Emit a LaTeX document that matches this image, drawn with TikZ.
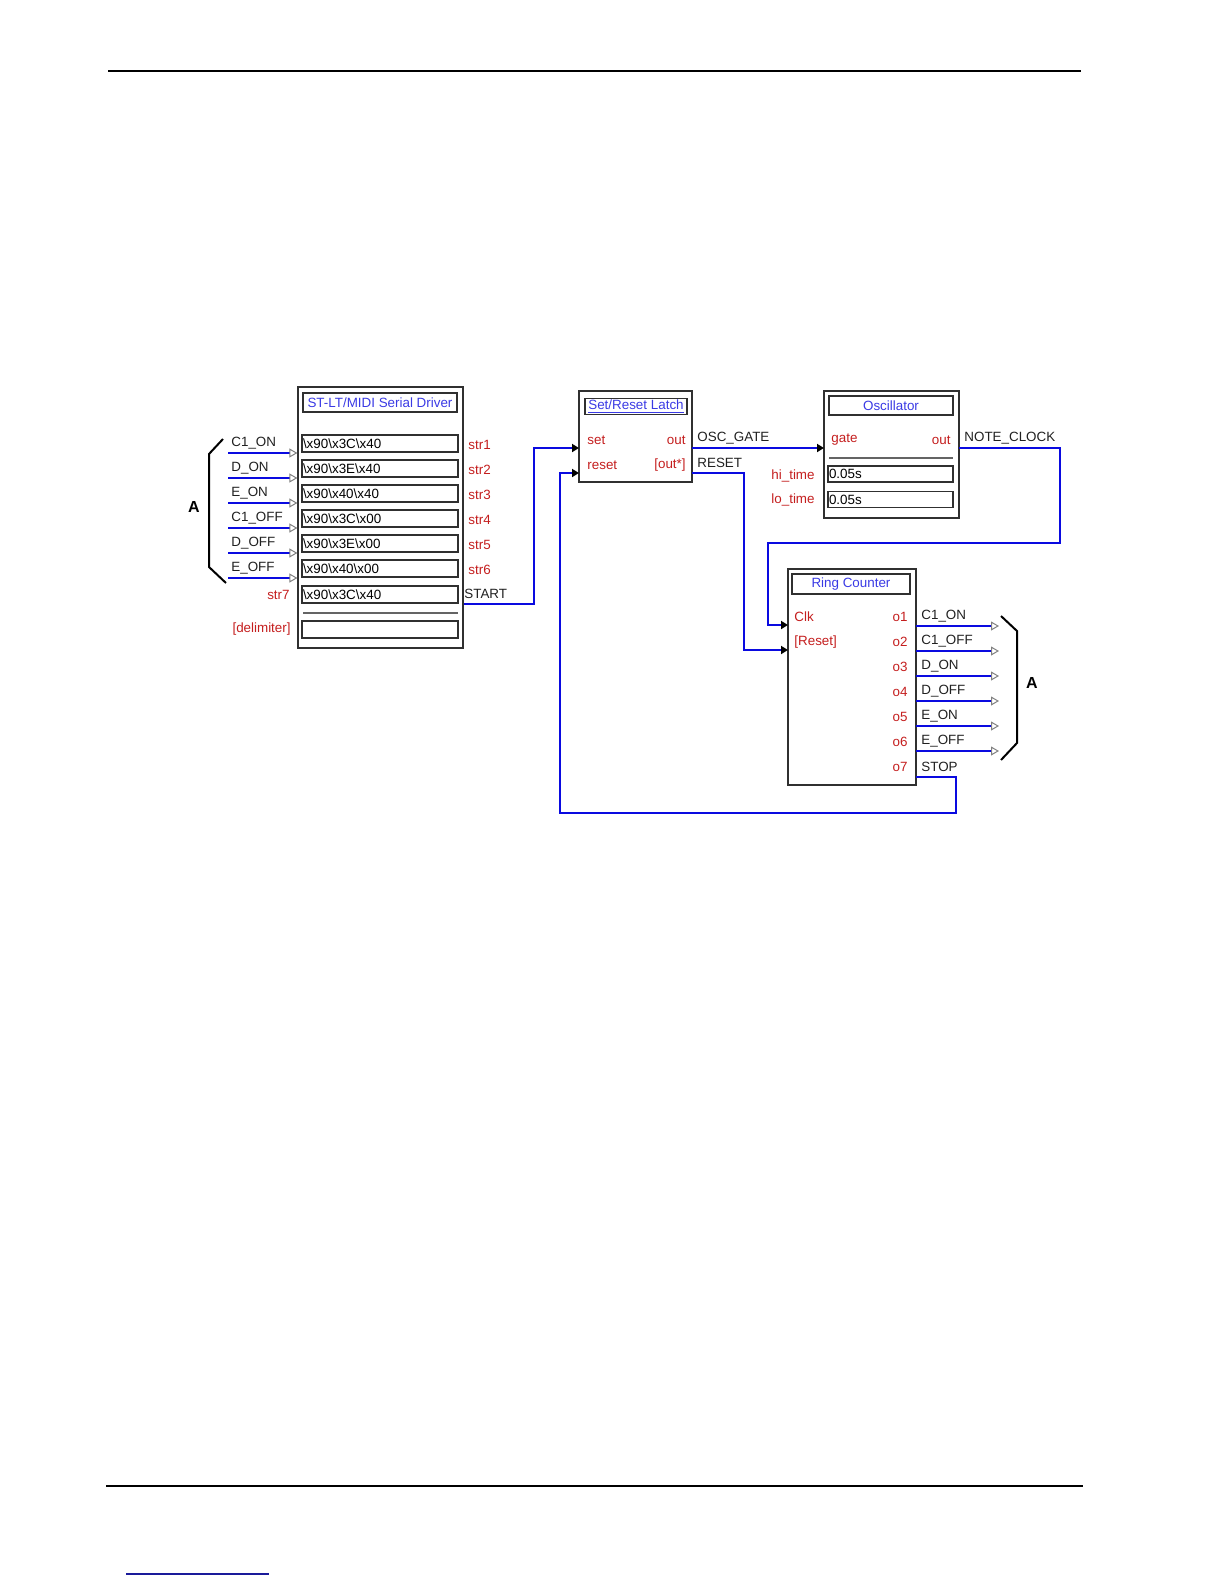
\documentclass[tikz,border=0pt]{standalone}
\usepackage{fontspec}
\setmainfont{Liberation Sans}
\usetikzlibrary{arrows.meta}
\definecolor{cport}{HTML}{C41E1E}
\definecolor{ctitle}{HTML}{3A3AE4}
\definecolor{cwire}{HTML}{0A0AE0}
\definecolor{cbox}{HTML}{303030}
\definecolor{csig}{HTML}{202020}
\definecolor{clink}{HTML}{1A1A9A}

\begin{document}
\begin{tikzpicture}[
  x=0.5bp, y=-0.5bp,
  font=\fontsize{6.7bp}{8bp}\selectfont,
  blk/.style={draw=cbox, line width=0.6bp, inner sep=0pt},
  ttl/.style={draw=cbox, line width=0.6bp, inner sep=0pt, text=ctitle},
  fld/.style={draw=cbox, line width=0.6bp, inner sep=0.5bp, text width=#1, minimum height=8.5bp, align=left},
  prt/.style={text=cport, inner sep=1pt},
  sig/.style={text=csig, inner sep=1pt, anchor=west},
  wire/.style={draw=cwire, line width=1bp},
  drive/.style={wire, -{Triangle[length=3.5bp, width=4bp, color=black]}},
  feed/.style={wire, -{Triangle[open, length=4bp, width=4.5bp, line width=0.5bp, color=black!50]}},
  rule/.style={line width=1.3bp},
  brc/.style={line width=1bp},
  grp/.style={font=\fontsize{8bp}{9bp}\selectfont\bfseries},
]
\newcommand{\hx}[3]{\textbackslash x#1\textbackslash x#2\textbackslash x#3}

\useasboundingbox (0,0) rectangle (1224,1584);

% ------------------------------------------------------------------ page rules
\draw[rule] (108,71) -- (1081,71);
\draw[rule] (106,1486) -- (1083,1486);
\draw[draw=clink, line width=0.8bp] (126,1574) -- (269,1574);

% ------------------------------------------------------------------ serial driver
\node[blk, minimum width=82.5bp, minimum height=130.5bp] (drv) at (380.5,517.5) {};
\node[ttl, minimum width=77bp, minimum height=9.5bp] (drvt) at (380,402.5) {ST-LT/MIDI Serial Driver};
\node[fld=77bp] (s1) at (380,443.5) {\hx{90}{3C}{40}};
\node[fld=77bp] (s2) at (380,468.5) {\hx{90}{3E}{40}};
\node[fld=77bp] (s3) at (380,493.5) {\hx{90}{40}{40}};
\node[fld=77bp] (s4) at (380,518.5) {\hx{90}{3C}{00}};
\node[fld=77bp] (s5) at (380,543.5) {\hx{90}{3E}{00}};
\node[fld=77bp] (s6) at (380,568.5) {\hx{90}{40}{00}};
\node[fld=77bp] (s7) at (380,594.5) {\hx{90}{3C}{40}};
\draw[line width=0.6bp, draw=cbox!75] (303,613) -- (458,613);
\node[fld=77bp] (sdel) at (380,629.5) {};

\node[prt, anchor=west] (p1) at (466,445) {str1};
\node[prt, anchor=west] (p2) at (466,470) {str2};
\node[prt, anchor=west] (p3) at (466,495) {str3};
\node[prt, anchor=west] (p4) at (466,520) {str4};
\node[prt, anchor=west] (p5) at (466,545) {str5};
\node[prt, anchor=west] (p6) at (466,570) {str6};
\node[prt, anchor=east] (p7) at (292,595) {str7};
\node[prt, anchor=east] (pdel) at (293,629) {[delimiter]};
\node[sig] (nstart) at (462,594) {START};

% inputs from the ring counter outputs (group A)
\coordinate (i1) at (228,453);
\coordinate (i2) at (228,478);
\coordinate (i3) at (228,503);
\coordinate (i4) at (228,528);
\coordinate (i5) at (228,553);
\coordinate (i6) at (228,578);
\draw[feed] (i1) -- (i1 -| drv.west);
\draw[feed] (i2) -- (i2 -| drv.west);
\draw[feed] (i3) -- (i3 -| drv.west);
\draw[feed] (i4) -- (i4 -| drv.west);
\draw[feed] (i5) -- (i5 -| drv.west);
\draw[feed] (i6) -- (i6 -| drv.west);
\node[sig] (ni1) at (229,443) {C1\_ON};
\node[sig] (ni2) at (229,468) {D\_ON};
\node[sig] (ni3) at (229,493) {E\_ON};
\node[sig] (ni4) at (229,518) {C1\_OFF};
\node[sig] (ni5) at (229,543) {D\_OFF};
\node[sig] (ni6) at (229,568) {E\_OFF};
\draw[brc] (223,439) -- (209,454) -- (209,567) -- (226,583);
\node[grp] (grpl) at (194,507) {A};

% ------------------------------------------------------------------ set/reset latch
\node[blk, minimum width=56.5bp, minimum height=45.5bp] (lat) at (635.5,436.5) {};
\node[ttl, minimum width=51bp, minimum height=8bp, inner ysep=0.4bp] (latt) at (636,406.5) {\underline{Set/Reset Latch}};
\node[prt, anchor=west] (lset) at (585,440) {set};
\node[prt, anchor=west] (lrst) at (585,465) {reset};
\node[prt, anchor=east] (lout) at (688,440) {out};
\node[prt, anchor=east] (loutn) at (688,465) {[out*]};
\node[sig] (ngate) at (695,438) {OSC\_GATE};
\node[sig] (nreset) at (695,463) {RESET};
\coordinate (lat-set) at (579,448);
\coordinate (lat-rst) at (579,473);
\coordinate (lat-out) at (692,448);
\coordinate (lat-outn) at (692,473);

% ------------------------------------------------------------------ oscillator
\node[blk, minimum width=67.5bp, minimum height=63.5bp] (osc) at (891.5,454.5) {};
\node[ttl, minimum width=62bp, minimum height=9.5bp] (osct) at (891,405.5) {Oscillator};
\node[prt, anchor=west] (ogate) at (829,440) {gate};
\node[prt, anchor=east] (oout) at (953,440) {out};
\draw[line width=0.6bp, draw=cbox!75] (829,458) -- (953,458);
\node[fld=61.5bp, minimum height=8bp] (hi) at (890.5,474) {0.05s};
\node[fld=61.5bp, minimum height=8bp] (lo) at (890.5,499.5) {0.05s};
\node[prt, anchor=east] (ohi) at (817,476) {hi\_time};
\node[prt, anchor=east] (olo) at (817,500) {lo\_time};
\node[sig] (nclock) at (962,438) {NOTE\_CLOCK};
\coordinate (osc-gate) at (824,448);
\coordinate (osc-out) at (959,448);

% ------------------------------------------------------------------ ring counter
\node[blk, minimum width=64bp, minimum height=108bp] (rc) at (852,677) {};
\node[ttl, minimum width=59bp, minimum height=10bp] (rct) at (851,584) {Ring Counter};
\node[prt, anchor=west] (rclk) at (792,617) {Clk};
\node[prt, anchor=west] (rrst) at (792,642) {[Reset]};
\node[prt, anchor=east] (o1) at (910,617) {o1};
\node[prt, anchor=east] (o2) at (910,642) {o2};
\node[prt, anchor=east] (o3) at (910,667) {o3};
\node[prt, anchor=east] (o4) at (910,692) {o4};
\node[prt, anchor=east] (o5) at (910,717) {o5};
\node[prt, anchor=east] (o6) at (910,742) {o6};
\node[prt, anchor=east] (o7) at (910,767) {o7};
\node[sig] (no1) at (919,616) {C1\_ON};
\node[sig] (no2) at (919,641) {C1\_OFF};
\node[sig] (no3) at (919,666) {D\_ON};
\node[sig] (no4) at (919,691) {D\_OFF};
\node[sig] (no5) at (919,716) {E\_ON};
\node[sig] (no6) at (919,741) {E\_OFF};
\node[sig] (nstop) at (919,767) {STOP};
\coordinate (rc-clk) at (788,625);
\coordinate (rc-rst) at (788,650);
\coordinate (rc-stop) at (916,777);

% outputs to the serial driver inputs (group A)
\coordinate (q1) at (916,626);
\coordinate (q2) at (916,651);
\coordinate (q3) at (916,676);
\coordinate (q4) at (916,701);
\coordinate (q5) at (916,726);
\coordinate (q6) at (916,751);
\draw[feed] (q1) -- ++(83,0);
\draw[feed] (q2) -- ++(83,0);
\draw[feed] (q3) -- ++(83,0);
\draw[feed] (q4) -- ++(83,0);
\draw[feed] (q5) -- ++(83,0);
\draw[feed] (q6) -- ++(83,0);
\draw[brc] (1001,616) -- (1017,631) -- (1017,743) -- (1001,760);
\node[grp] (grpr) at (1032,683) {A};

% ------------------------------------------------------------------ wires
\draw[drive] (drv.east |- s7.south) -- ++(70,0) |- (lat-set);
\draw[drive] (lat-out) -- (osc-gate);
\draw[drive] (lat-outn) -- ++(52,0) |- (rc-rst);
\draw[drive] (osc-out) -- ++(101,0) -- ++(0,95) -- ++(-292,0) |- (rc-clk);
\draw[drive] (rc-stop) -- ++(40,0) -- ++(0,36) -- ++(-396,0) |- (lat-rst);
\end{tikzpicture}
\end{document}
